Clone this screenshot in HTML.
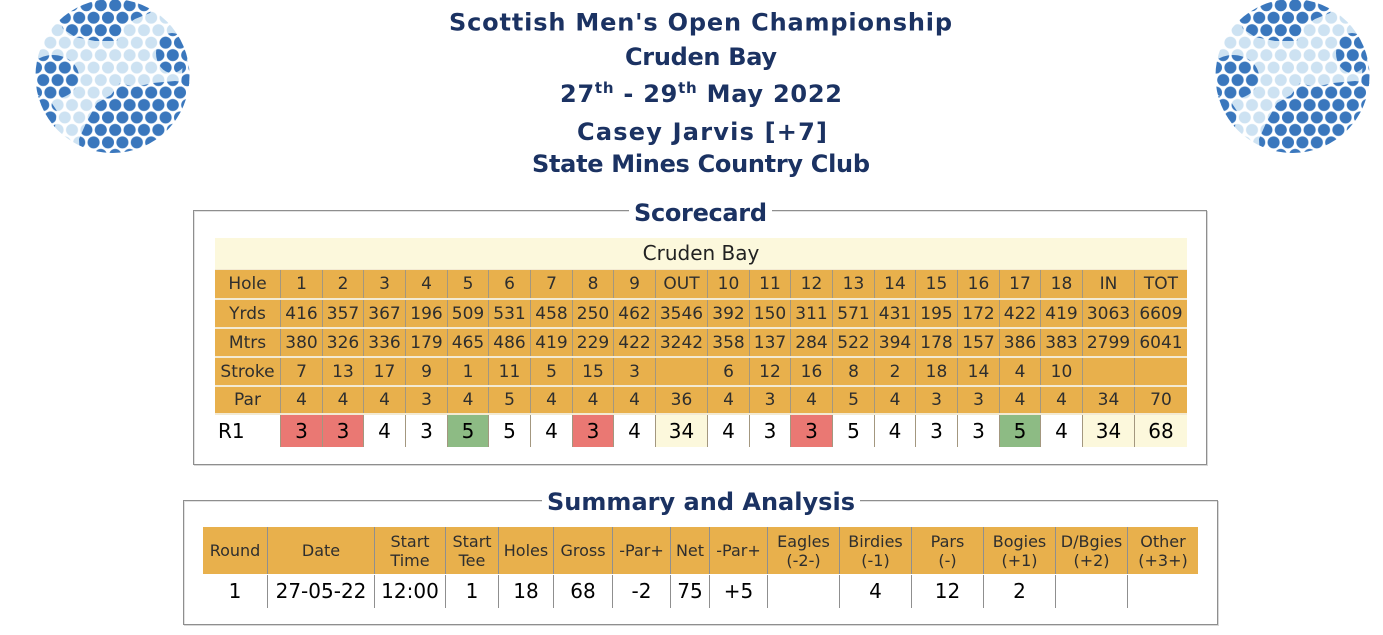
<!DOCTYPE html>
<html><head><meta charset="utf-8">
<style>
html,body{margin:0;padding:0;background:#fff;}
#pg{position:relative;width:1383px;height:635px;overflow:hidden;background:#fff;font-family:"DejaVu Sans","Liberation Sans",sans-serif;}
.abs{position:absolute;}
.fs{position:absolute;border:1px solid #8e8e8e;box-shadow:inset 1px 1px 0 #e2e2e2, 1px 1px 0 #d8d8d8;}
.sc{position:absolute;left:215px;width:972px;display:flex;color:#2e2e2e;font-size:17px;}
.sc>div{box-sizing:border-box;text-align:center;border-left:1px solid #a3977f;white-space:nowrap;overflow:hidden;}
.sc>div:nth-child(1){border-left:none;width:65px}
.sc>div:nth-child(2),.sc>div:nth-child(4),.sc>div:nth-child(5),.sc>div:nth-child(7),.sc>div:nth-child(8),.sc>div:nth-child(10),
.sc>div:nth-child(12),.sc>div:nth-child(14),.sc>div:nth-child(15),.sc>div:nth-child(17),.sc>div:nth-child(18),.sc>div:nth-child(20){width:42px}
.sc>div:nth-child(3),.sc>div:nth-child(6),.sc>div:nth-child(9),.sc>div:nth-child(13),.sc>div:nth-child(16),.sc>div:nth-child(19){width:41px}
.sc>div:nth-child(11),.sc>div:nth-child(21){width:52px}
.sc>div:nth-child(22){width:53px}
.or{background:#e8b04c;}
.r1{color:#000;font-size:20px;background:#fff;}
.r1>div:nth-child(1){text-align:left;padding-left:3px;}
.rd{background:#ea7873;}
.gr{background:#8dbb84;}
.yl{background:#fcf8dc;}
.sm{position:absolute;left:203px;width:995px;display:flex;}
.sm>div{box-sizing:border-box;text-align:center;border-left:1px solid #8f8f8f;display:flex;flex-direction:column;justify-content:center;align-items:center;white-space:nowrap;}
.sm>div:nth-child(1){border-left:none;width:64px}
.sm>div:nth-child(2){width:107px}
.sm>div:nth-child(3){width:71px}
.sm>div:nth-child(4){width:53px}
.sm>div:nth-child(5){width:55px}
.sm>div:nth-child(6){width:59px}
.sm>div:nth-child(7){width:58px}
.sm>div:nth-child(8){width:39px}
.sm>div:nth-child(9){width:58px}
.sm>div:nth-child(10),.sm>div:nth-child(11),.sm>div:nth-child(12),.sm>div:nth-child(13),.sm>div:nth-child(14){width:72px}
.sm>div:nth-child(15){width:71px}
.smh{top:527px;height:47px;background:#e8b04c;color:#2e2e2e;font-size:16px;line-height:19px;}
.smd{top:575px;height:33px;background:#fff;color:#000;font-size:20px;line-height:33px;}
</style></head>
<body><div id="pg">

<!-- golf balls -->
<svg class="abs" style="left:35px;top:-1px" width="156" height="156" viewBox="0 0 156 156">
<defs>
<pattern id="pl" patternUnits="userSpaceOnUse" x="1" y="0" width="14.4" height="24.94"><g fill="#cde2f2"><circle cx="7.2" cy="6.2" r="6.0"/><circle cx="0" cy="18.67" r="6.0"/><circle cx="14.4" cy="18.67" r="6.0"/></g></pattern>
<pattern id="pd" patternUnits="userSpaceOnUse" x="1" y="0" width="14.4" height="24.94"><g fill="#3a77bd"><circle cx="7.2" cy="6.2" r="6.0"/><circle cx="0" cy="18.67" r="6.0"/><circle cx="14.4" cy="18.67" r="6.0"/></g></pattern>
<clipPath id="cb"><circle cx="77.5" cy="77" r="77"/></clipPath>
</defs>
<g clip-path="url(#cb)">
<rect width="156" height="156" fill="url(#pl)"/>
<path d="M25,0 L125,0 L115,14 L100,20 L88,28 L82,42 L60,42 L40,38 L28,30 L22,14 Z" fill="url(#pd)"/>
<ellipse cx="137" cy="54" rx="16" ry="20" fill="url(#pd)"/>
<path d="M148,62 L160,62 L160,90 L146,88 Z" fill="url(#pd)"/>
<ellipse cx="18" cy="78" rx="26" ry="22" fill="url(#pd)"/>
<path d="M0,96 L14,100 L22,112 L20,128 L0,128 Z" fill="url(#pd)"/>
<path d="M85,84 L100,88 L118,84 L140,82 L160,84 L160,160 L45,160 L44,140 L52,122 L62,104 L76,96 Z" fill="url(#pd)"/>
</g>
</svg>
<svg class="abs" style="left:1215px;top:-1px" width="156" height="156" viewBox="0 0 156 156">
<g clip-path="url(#cb)">
<rect width="156" height="156" fill="url(#pl)"/>
<path d="M25,0 L125,0 L115,14 L100,20 L88,28 L82,42 L60,42 L40,38 L28,30 L22,14 Z" fill="url(#pd)"/>
<ellipse cx="137" cy="54" rx="16" ry="20" fill="url(#pd)"/>
<path d="M148,62 L160,62 L160,90 L146,88 Z" fill="url(#pd)"/>
<ellipse cx="18" cy="78" rx="26" ry="22" fill="url(#pd)"/>
<path d="M0,96 L14,100 L22,112 L20,128 L0,128 Z" fill="url(#pd)"/>
<path d="M85,84 L100,88 L118,84 L140,82 L160,84 L160,160 L45,160 L44,140 L52,122 L62,104 L76,96 Z" fill="url(#pd)"/>
</g>
</svg>

<!-- fieldsets -->
<div class="fs" style="left:193px;top:210px;width:1012px;height:253px;"></div>
<div class="fs" style="left:183px;top:500px;width:1033px;height:123px;"></div>

<!-- scorecard -->
<div class="abs" style="left:215px;top:238px;width:972px;height:31px;background:#fcf8dc;color:#222;font-size:20px;line-height:31px;text-align:center;">Cruden Bay</div>
<div class="abs" style="left:215px;top:269px;width:972px;height:146px;background:#f3ead3;"></div>

<div class="sc or" style="top:270px;height:28px;line-height:29px;">
<div>Hole</div><div>1</div><div>2</div><div>3</div><div>4</div><div>5</div><div>6</div><div>7</div><div>8</div><div>9</div><div>OUT</div><div>10</div><div>11</div><div>12</div><div>13</div><div>14</div><div>15</div><div>16</div><div>17</div><div>18</div><div>IN</div><div>TOT</div>
</div>
<div class="sc or" style="top:300px;height:27px;line-height:28px;">
<div>Yrds</div><div>416</div><div>357</div><div>367</div><div>196</div><div>509</div><div>531</div><div>458</div><div>250</div><div>462</div><div>3546</div><div>392</div><div>150</div><div>311</div><div>571</div><div>431</div><div>195</div><div>172</div><div>422</div><div>419</div><div>3063</div><div>6609</div>
</div>
<div class="sc or" style="top:329px;height:27px;line-height:28px;">
<div>Mtrs</div><div>380</div><div>326</div><div>336</div><div>179</div><div>465</div><div>486</div><div>419</div><div>229</div><div>422</div><div>3242</div><div>358</div><div>137</div><div>284</div><div>522</div><div>394</div><div>178</div><div>157</div><div>386</div><div>383</div><div>2799</div><div>6041</div>
</div>
<div class="sc or" style="top:358px;height:27px;line-height:28px;">
<div>Stroke</div><div>7</div><div>13</div><div>17</div><div>9</div><div>1</div><div>11</div><div>5</div><div>15</div><div>3</div><div></div><div>6</div><div>12</div><div>16</div><div>8</div><div>2</div><div>18</div><div>14</div><div>4</div><div>10</div><div></div><div></div>
</div>
<div class="sc or" style="top:387px;height:26px;line-height:27px;">
<div>Par</div><div>4</div><div>4</div><div>4</div><div>3</div><div>4</div><div>5</div><div>4</div><div>4</div><div>4</div><div>36</div><div>4</div><div>3</div><div>4</div><div>5</div><div>4</div><div>3</div><div>3</div><div>4</div><div>4</div><div>34</div><div>70</div>
</div>
<div class="sc r1" style="top:415px;height:32px;line-height:33px;">
<div>R1</div><div class="rd">3</div><div class="rd">3</div><div>4</div><div>3</div><div class="gr">5</div><div>5</div><div>4</div><div class="rd">3</div><div>4</div><div class="yl">34</div><div>4</div><div>3</div><div class="rd">3</div><div>5</div><div>4</div><div>3</div><div>3</div><div class="gr">5</div><div>4</div><div class="yl">34</div><div class="yl">68</div>
</div>

<!-- summary -->
<div class="sm smh">
<div>Round</div><div>Date</div><div><span>Start</span><span>Time</span></div><div><span>Start</span><span>Tee</span></div><div>Holes</div><div>Gross</div><div>-Par+</div><div>Net</div><div>-Par+</div><div><span>Eagles</span><span>(-2-)</span></div><div><span>Birdies</span><span>(-1)</span></div><div><span>Pars</span><span>(-)</span></div><div><span>Bogies</span><span>(+1)</span></div><div><span>D/Bgies</span><span>(+2)</span></div><div><span>Other</span><span>(+3+)</span></div>
</div>
<div class="sm smd">
<div>1</div><div>27-05-22</div><div>12:00</div><div>1</div><div>18</div><div>68</div><div>-2</div><div>75</div><div>+5</div><div></div><div>4</div><div>12</div><div>2</div><div></div><div></div>
</div>

<!-- headings -->
<svg class="abs" style="left:0;top:0" width="1383" height="635" viewBox="0 0 1383 635">
<rect x="629" y="205" width="143" height="10" fill="#fff"/>
<rect x="542" y="495" width="318" height="10" fill="#fff"/>
<g font-family="DejaVu Sans, Liberation Sans, sans-serif" font-weight="bold" fill="#1b3262" text-anchor="middle" font-size="24">
<text x="700.5" y="30.5" textLength="503" lengthAdjust="spacing">Scottish Men's Open Championship</text>
<text x="701" y="65" textLength="152" lengthAdjust="spacing">Cruden Bay</text>
<text x="701" y="102" textLength="282" lengthAdjust="spacing">27<tspan font-size="15" dy="-9">th</tspan><tspan dy="9"> - 29</tspan><tspan font-size="15" dy="-9">th</tspan><tspan dy="9"> May 2022</tspan></text>
<text x="702" y="140" textLength="250" lengthAdjust="spacing">Casey Jarvis [+7]</text>
<text x="701" y="172" textLength="338" lengthAdjust="spacing">State Mines Country Club</text>
<text x="700.5" y="221" textLength="133" lengthAdjust="spacing">Scorecard</text>
<text x="701" y="510" textLength="308" lengthAdjust="spacing">Summary and Analysis</text>
</g>
</svg>

</div></body></html>
